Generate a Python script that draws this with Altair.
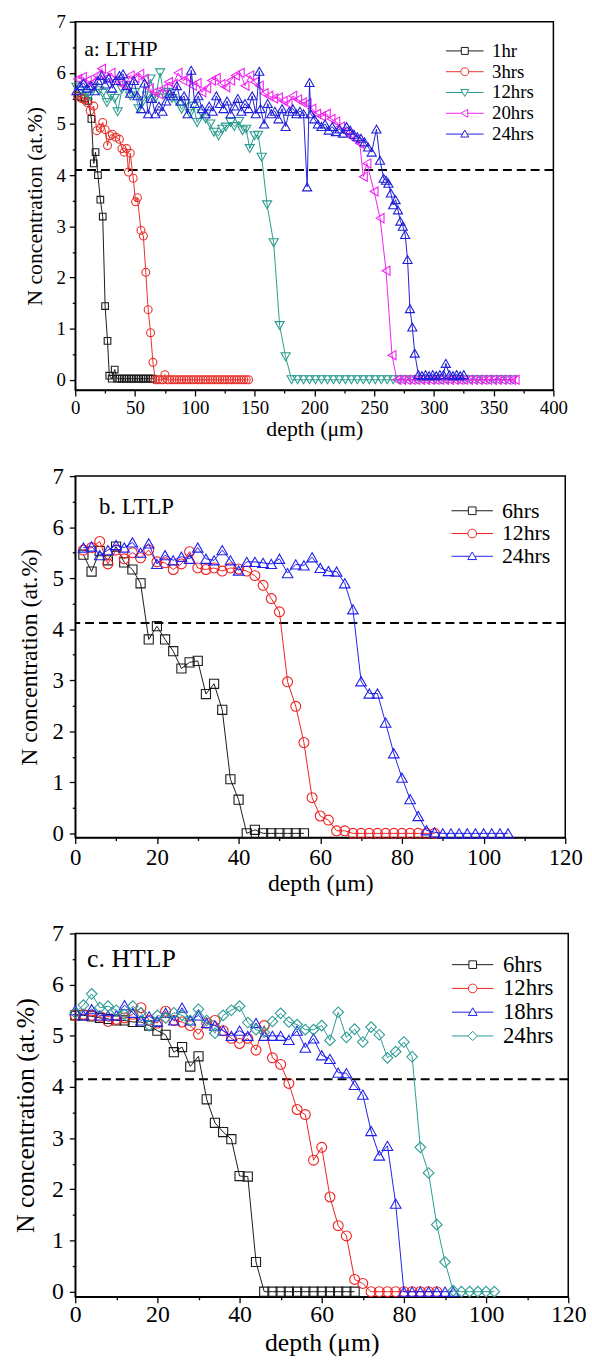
import altair as alt
import pandas as pd

FONT = "Liberation Serif"

# ---------------- panel a: LTHP ----------------
LTHP_NAMES = ["1hr", "3hrs", "12hrs", "20hrs", "24hrs"]
LTHP_COLORS = ["#1a1a1a", "#e8312a", "#2b9c8e", "#f022f0", "#2020d8"]
LTHP_SHAPES = ["square", "circle", "triangle-down", "triangle-left", "triangle-up"]

LTHP_1HR = [(2, 5.55), (5, 5.52), (8, 5.5), (11, 5.45), (13.5, 5.1), (15.5, 4.23), (17, 4.45),
            (19, 4.0), (21, 3.52), (23, 3.19), (25, 1.44), (27, 0.76), (28.5, 0.08), (30.5, 0.02),
            (33, 0.2), (35, 0.02), (37, 0.02), (39, 0.02), (41, 0.02), (43, 0.02), (45, 0.02),
            (47, 0.02), (49, 0.02), (51, 0.02), (53, 0.02), (55, 0.02), (57, 0.02), (59, 0.02),
            (61, 0.02), (63, 0.02), (65, 0.02)]

LTHP_3HRS = [(2, 5.55), (5, 5.5), (7.5, 5.48), (10, 5.42), (12.5, 5.26), (15.5, 5.35), (18, 4.87),
             (21, 4.92), (23, 5.03), (25, 4.89), (27, 4.58), (29, 4.77), (31, 4.8), (34, 4.74),
             (37, 4.7), (39, 4.52), (41, 4.45), (43, 4.52), (44.5, 4.06), (46, 4.43), (48.5, 3.94),
             (50.5, 3.48), (52, 3.56), (55, 2.92), (57, 2.81), (59, 2.1), (61, 1.37), (63, 0.92),
             (65, 0.34), (67, 0.0), (69, 0.0), (71, 0.0), (73, 0.0), (75, 0.1), (77, 0.0), (79, 0.0),
             (81, 0.0), (83, 0.0), (85, 0.0), (87, 0.0), (89, 0.0), (91, 0.0), (93, 0.0), (95, 0.0),
             (97, 0.0), (99, 0.0), (101, 0.0), (103, 0.0), (105, 0.0), (107, 0.0), (109, 0.0),
             (111, 0.0), (113, 0.0), (115, 0.0), (117, 0.0), (119, 0.0), (121, 0.0), (123, 0.0),
             (125, 0.0), (127, 0.0), (129, 0.0), (131, 0.0), (133, 0.0), (135, 0.0), (137, 0.0),
             (139, 0.0), (141, 0.0), (143, 0.0), (145, 0.0)]

LTHP_12HRS = [(1, 5.72), (5, 5.65), (9, 5.6), (12, 5.55), (16, 5.72), (20, 5.65), (23, 5.6),
              (26.5, 5.42), (30, 5.55), (33, 5.5), (35.5, 5.24), (39, 5.68), (43, 5.75), (46, 5.55),
              (50, 5.62), (53, 5.3), (57, 5.45), (60, 5.55), (63, 5.88), (67, 5.5), (71, 6.0),
              (74, 5.58), (78, 5.62), (81, 5.5), (85, 5.45), (89, 5.29), (92, 5.4), (96, 5.2),
              (99, 5.35), (102, 5.03), (106, 5.2), (109, 5.1), (113, 5.0), (116, 4.84), (120, 4.77),
              (123, 4.9), (126, 4.94), (130, 5.03), (133, 4.95), (137, 5.05), (140, 4.87), (143, 4.9),
              (146, 4.52), (150, 4.77), (153, 4.78), (156, 4.35), (160.5, 3.42), (166, 2.68),
              (171, 1.06), (176, 0.45), (181, 0.0), (186, 0.0), (191, 0.0), (196, 0.0), (201, 0.0),
              (206, 0.0), (211, 0.0), (216, 0.0), (221, 0.0), (226, 0.0), (231, 0.0), (236, 0.0),
              (241, 0.0), (246, 0.0), (251, 0.0), (256, 0.0), (261, 0.0), (266, 0.0), (271, 0.0),
              (276, 0.0), (281, 0.0), (286, 0.0), (291, 0.0), (296, 0.0), (301, 0.0), (306, 0.0),
              (311, 0.0), (316, 0.0), (321, 0.0), (326, 0.0), (331, 0.0), (336, 0.0), (341, 0.0),
              (346, 0.0), (351, 0.0), (356, 0.0), (361, 0.0), (366, 0.0)]

LTHP_20HRS = [(2, 5.88), (6, 5.92), (10, 5.85), (14, 5.8), (18, 5.95), (22, 6.08), (26, 5.9),
              (30, 6.0), (34, 5.85), (38, 5.78), (42, 5.75), (46, 5.95), (50, 5.9), (54, 5.98),
              (58, 5.88), (62, 5.7), (66, 5.62), (70, 5.58), (74, 5.7), (78, 5.82), (82, 5.78),
              (86, 6.0), (90, 5.85), (94, 5.9), (98, 5.75), (102, 5.8), (106, 5.62), (110, 5.7),
              (114, 5.85), (118, 5.9), (122, 5.78), (126, 5.72), (130, 5.85), (134, 5.95),
              (138, 6.0), (142, 5.75), (146, 5.95), (150, 5.82), (154, 5.75), (158, 5.6),
              (162, 5.55), (166, 5.5), (170, 5.52), (174, 5.45), (178, 5.4), (182, 5.55),
              (186, 5.48), (190, 5.42), (194, 5.4), (198, 5.3), (202, 5.2), (206, 5.15), (210, 5.2),
              (214, 5.1), (218, 5.05), (222, 4.95), (226, 4.85), (230, 4.78), (234, 4.7),
              (238, 4.62), (241, 3.97), (244, 4.23), (250, 3.68), (255, 3.16), (260, 2.13),
              (265, 0.48), (269, 0.0), (273, 0.0), (277, 0.0), (281, 0.0), (285, 0.0), (289, 0.0),
              (293, 0.0), (297, 0.0), (301, 0.0), (305, 0.0), (309, 0.0), (313, 0.0), (317, 0.0),
              (321, 0.0), (325, 0.0), (329, 0.0), (333, 0.0), (337, 0.0), (341, 0.0), (345, 0.0),
              (349, 0.0), (353, 0.0), (357, 0.0), (361, 0.0), (365, 0.0), (368, 0.0)]

LTHP_24HRS = [(1, 5.65), (4, 5.75), (7, 5.8), (10, 5.7), (13, 5.75), (16, 5.65), (19, 5.85),
              (22, 5.95), (25, 5.78), (28, 5.9), (31, 5.7), (34, 5.85), (37, 5.95), (40, 5.98),
              (43, 5.75), (46, 5.6), (49, 5.85), (52, 5.55), (55, 5.3), (58, 5.8), (61, 5.2),
              (64, 5.5), (67, 5.2), (70, 5.35), (73, 5.25), (76, 5.45), (79, 5.6), (82, 5.55),
              (85, 5.75), (88, 5.45), (91, 5.55), (94, 5.2), (97, 6.05), (100, 5.4), (103, 5.55),
              (106, 5.3), (109, 5.2), (112, 5.35), (115, 5.25), (118, 5.55), (121, 5.4), (124, 5.3),
              (127, 5.45), (130, 5.2), (133, 5.35), (136, 5.5), (139, 5.25), (142, 5.4), (145, 5.3),
              (148, 5.55), (151, 5.2), (154, 6.03), (155, 5.3), (158, 5.0), (161, 5.4), (164, 5.2),
              (167, 5.25), (170, 5.1), (173, 5.3), (176, 4.95), (179, 5.25), (182, 5.3), (185, 5.2),
              (188, 5.25), (191, 5.2), (194, 3.77), (196, 5.81), (197, 5.2), (200, 5.1), (203, 5.0),
              (206, 4.95), (209, 5.0), (212, 4.88), (215, 4.95), (218, 4.85), (221, 4.9),
              (224, 4.82), (227, 4.95), (230, 4.88), (233, 4.8), (236, 4.75), (239, 4.72),
              (242, 4.65), (245, 4.55), (248, 4.45), (252, 4.9), (255, 4.29), (258, 3.94),
              (260, 3.9), (262, 3.84), (264, 3.65), (266, 3.42), (268, 3.52), (270, 3.32),
              (272, 3.1), (274, 3.0), (276, 2.84), (278, 2.35), (280, 1.39), (282, 1.03),
              (284, 0.52), (287, 0.1), (290, 0.08), (293, 0.1), (296, 0.08), (299, 0.1), (302, 0.08),
              (305, 0.1), (308, 0.1), (310, 0.32), (313, 0.1), (316, 0.08), (319, 0.1), (322, 0.08),
              (325, 0.1)]

# ---------------- panel b: LTLP ----------------
LTLP_NAMES = ["6hrs", "12hrs", "24hrs"]
LTLP_COLORS = ["#1a1a1a", "#f02020", "#2020ee"]
LTLP_SHAPES = ["square", "circle", "triangle-up"]

LTLP_6HRS = [(2, 5.46), (4, 5.13), (6, 5.53), (8, 5.35), (10, 5.62), (12, 5.31), (14, 5.17),
             (16, 4.9), (18, 3.8), (20, 4.06), (22, 3.8), (24, 3.57), (26, 3.23), (28, 3.35),
             (30, 3.38), (32, 2.73), (34, 2.93), (36, 2.42), (38, 1.06), (40, 0.66), (42, 0.0),
             (44, 0.07), (46, 0.0), (48, 0.0), (50, 0.0), (52, 0.0), (54, 0.0), (56, 0.0)]

LTLP_12HRS = [(2, 5.55), (4, 5.6), (6, 5.72), (8, 5.28), (10, 5.55), (12, 5.38), (14, 5.5),
              (16, 5.4), (18, 5.55), (20, 5.32), (22, 5.3), (24, 5.17), (26, 5.28), (28, 5.52),
              (30, 5.2), (32, 5.17), (34, 5.2), (36, 5.14), (38, 5.2), (40, 5.18), (42, 5.14),
              (44, 5.05), (46, 4.86), (48, 4.6), (50, 4.34), (52, 2.97), (54, 2.49), (56, 1.78),
              (58, 0.7), (60, 0.34), (62, 0.26), (64, 0.05), (66, 0.05), (68, 0.0), (70, 0.0),
              (72, 0.0), (74, 0.0), (76, 0.0), (78, 0.0), (80, 0.0), (82, 0.0), (84, 0.0), (86, 0.0),
              (88, 0.0)]

LTLP_24HRS = [(2, 5.6), (4, 5.62), (6, 5.45), (8, 5.55), (10, 5.65), (12, 5.6), (14, 5.7),
              (16, 5.5), (18, 5.68), (20, 5.28), (22, 5.45), (24, 5.35), (26, 5.42), (28, 5.38),
              (30, 5.6), (32, 5.38), (34, 5.35), (36, 5.55), (38, 5.35), (40, 5.15), (42, 5.32),
              (44, 5.32), (46, 5.3), (48, 5.28), (50, 5.38), (52, 5.1), (54, 5.27), (56, 5.25),
              (58, 5.41), (60, 5.2), (62, 5.14), (64, 5.13), (66, 4.9), (68, 4.39), (70, 2.98),
              (72, 2.74), (74, 2.74), (76, 2.17), (78, 1.57), (80, 1.09), (82, 0.67), (84, 0.34),
              (86, 0.06), (88, 0.02), (90, 0.0), (92, 0.0), (94, 0.0), (96, 0.0), (98, 0.0),
              (100, 0.0), (102, 0.0), (104, 0.0), (106, 0.0)]

# ---------------- panel c: HTLP ----------------
HTLP_NAMES = ["6hrs", "12hrs", "18hrs", "24hrs"]
HTLP_COLORS = ["#1a1a1a", "#f02020", "#2020ee", "#2b9c94"]
HTLP_SHAPES = ["square", "circle", "triangle-up", "diamond"]

HTLP_6HRS = [(0, 5.4), (2, 5.4), (4, 5.38), (6, 5.35), (8, 5.33), (10, 5.3), (12, 5.3), (14, 5.27),
             (16, 5.27), (18, 5.2), (20, 5.1), (22, 5.02), (24, 4.68), (26, 4.78), (28, 4.4),
             (30, 4.6), (32, 3.76), (34, 3.3), (36, 3.12), (38, 2.98), (40, 2.26), (42, 2.25),
             (44, 0.58), (46, 0.0), (48, 0.0), (50, 0.0), (52, 0.0), (54, 0.0), (56, 0.0), (58, 0.0),
             (60, 0.0), (62, 0.0), (64, 0.0), (66, 0.0), (68, 0.0)]

HTLP_12HRS = [(0, 5.4), (2, 5.42), (4, 5.4), (6, 5.38), (8, 5.28), (10, 5.32), (12, 5.35),
              (14, 5.42), (16, 5.55), (18, 5.3), (20, 5.25), (22, 5.48), (24, 5.3), (26, 5.27),
              (28, 5.2), (30, 5.03), (32, 5.25), (34, 5.3), (36, 5.1), (38, 4.95), (40, 4.85),
              (42, 4.95), (44, 4.72), (46, 5.2), (48, 4.57), (50, 4.44), (52, 4.07), (54, 3.56),
              (56, 3.46), (58, 2.57), (60, 2.82), (62, 1.85), (64, 1.29), (66, 1.09), (68, 0.24),
              (70, 0.16), (72, 0.0), (74, 0.0), (76, 0.0), (78, 0.0), (80, 0.0), (82, 0.0),
              (84, 0.0), (86, 0.0), (88, 0.0)]

HTLP_18HRS = [(0, 5.5), (2, 5.4), (4, 5.52), (6, 5.4), (8, 5.4), (10, 5.4), (12, 5.6), (14, 5.45),
              (16, 5.3), (18, 5.38), (20, 5.28), (22, 5.45), (24, 5.3), (26, 5.55), (28, 5.3),
              (30, 5.4), (32, 5.25), (34, 5.2), (36, 5.1), (38, 5.0), (40, 5.1), (42, 5.0),
              (44, 5.25), (46, 5.0), (48, 5.0), (50, 5.0), (52, 4.92), (54, 5.1), (56, 4.77),
              (58, 4.95), (60, 4.62), (62, 4.55), (64, 4.28), (66, 4.27), (68, 4.04), (70, 3.85),
              (72, 3.14), (74, 2.66), (76, 2.85), (78, 1.72), (80, 0.0), (82, 0.0), (84, 0.0),
              (86, 0.0), (88, 0.0), (90, 0.0), (92, 0.0)]

HTLP_24HRS = [(0, 5.45), (2, 5.6), (4, 5.82), (6, 5.55), (8, 5.58), (10, 5.5), (12, 5.42),
              (14, 5.58), (16, 5.45), (18, 5.2), (20, 5.4), (22, 5.35), (24, 5.45), (26, 5.4),
              (28, 5.3), (30, 5.52), (32, 5.3), (34, 5.05), (36, 5.4), (38, 5.5), (40, 5.58),
              (42, 5.26), (44, 5.12), (46, 5.07), (48, 5.28), (50, 5.44), (52, 5.27), (54, 5.22),
              (56, 5.12), (58, 5.12), (60, 5.2), (62, 4.91), (64, 5.46), (66, 4.97), (68, 5.13),
              (70, 4.88), (72, 5.17), (74, 5.02), (76, 4.57), (78, 4.69), (80, 4.88), (82, 4.59),
              (84, 2.82), (86, 2.32), (88, 1.31), (90, 0.58), (92, 0.02), (94, 0.0), (96, 0.0),
              (98, 0.0), (100, 0.0), (102, 0.0)]


def legend_path(shape, reach):
    """Legend glyph: a short line segment with the hollow marker in the middle."""
    r = reach
    if shape == "square":
        return f"M{-r},0H-0.7M0.7,0H{r}M-0.7,-0.7H0.7V0.7H-0.7Z"
    if shape == "circle":
        return f"M{-r},0H-0.8M0.8,0H{r}M0.8,0A0.8,0.8,0,1,1,-0.8,0A0.8,0.8,0,1,1,0.8,0Z"
    if shape == "triangle-down":
        return f"M{-r},0H-0.46M0.46,0H{r}M-0.8,-0.6H0.8L0,0.8Z"
    if shape == "triangle-up":
        return f"M{-r},0H-0.46M0.46,0H{r}M-0.8,0.6H0.8L0,-0.8Z"
    if shape == "triangle-left":
        return f"M{-r},0H-0.8M0.6,0H{r}M0.6,-0.8V0.8L-0.8,0Z"
    return f"M{-r},0H-0.85M0.85,0H{r}M0,-0.85L0.85,0L0,0.85L-0.85,0Z"


def panel(names, colors, shapes, series, *, tag, tag_xy, tag_size, x_max, x_minor, x_major,
          y_min, level, width, height, tick_fs, title_fs, y_label_pad, y_title_pad,
          x_label_pad, x_title_pad, marker_sizes, legend_xy, legend_fs, legend_sym,
          legend_reach, legend_offset, legend_rowpad):
    x_vals = [i * x_minor for i in range(int(x_max / x_minor) + 1)]
    y_vals = [i * 0.5 for i in range(15)]
    x_enc = alt.X(
        "depth:Q",
        scale=alt.Scale(domain=[0, x_max], nice=False, zero=False),
        axis=alt.Axis(
            title="depth (μm)", values=x_vals, grid=False,
            labelExpr=f"datum.value % {x_major} === 0 ? '' + datum.value : ''",
            tickSize={"condition": {"test": f"datum.value % {x_major} === 0", "value": 6}, "value": 3},
            tickColor="black", tickWidth=1.3, domainColor="black", domainWidth=1.5,
            labelFont=FONT, labelFontSize=tick_fs, labelColor="black", labelPadding=x_label_pad,
            labelOverlap=False, labelFlush=False,
            titleFont=FONT, titleFontSize=title_fs, titleFontWeight="normal",
            titleColor="black", titlePadding=x_title_pad,
        ),
    )
    y_enc = alt.Y(
        "conc:Q",
        scale=alt.Scale(domain=[y_min, 7], nice=False, zero=False),
        axis=alt.Axis(
            title="N concentration (at.%)", values=y_vals, grid=False,
            labelExpr="datum.value % 1 === 0 ? '' + datum.value : ''",
            tickSize={"condition": {"test": "datum.value % 1 === 0", "value": 6}, "value": 3},
            tickColor="black", tickWidth=1.3, domainColor="black", domainWidth=1.5,
            labelFont=FONT, labelFontSize=tick_fs, labelColor="black", labelPadding=y_label_pad,
            labelOverlap=False, labelFlush=False,
            titleFont=FONT, titleFontSize=title_fs, titleFontWeight="normal",
            titleColor="black", titlePadding=y_title_pad,
        ),
    )

    layers = []
    # threshold level
    layers.append(
        alt.Chart(pd.DataFrame({"conc": [level]}))
        .mark_rule(color="black", strokeWidth=2, strokeDash=[9, 5])
        .encode(y=y_enc)
    )
    for name, color, shape, pts, msize in zip(names, colors, shapes, series, marker_sizes):
        df = pd.DataFrame(pts, columns=["depth", "conc"])
        base = alt.Chart(df)
        layers.append(base.mark_line(color=color, strokeWidth=1).encode(x=x_enc, y=y_enc))
        layers.append(
            base.mark_point(shape=shape, size=msize, filled=False, color=color,
                            strokeWidth=1.1, opacity=1)
            .encode(x=x_enc, y=y_enc)
        )

    # legend: empty layer carrying the colour/shape scales
    leg = alt.Legend(
        title=None, orient="none", legendX=legend_xy[0], legendY=legend_xy[1], padding=0,
        labelFont=FONT, labelFontSize=legend_fs, labelColor="black", labelLimit=0,
        symbolSize=legend_sym, symbolStrokeWidth=1, labelOffset=legend_offset,
        rowPadding=legend_rowpad,
    )
    paths = [legend_path(s, legend_reach) for s in shapes]
    layers.append(
        alt.Chart(pd.DataFrame({"series": names}))
        .transform_filter("false")
        .mark_point(filled=False, opacity=1, strokeWidth=1)
        .encode(
            color=alt.Color("series:N", scale=alt.Scale(domain=names, range=colors), legend=leg),
            shape=alt.Shape("series:N", scale=alt.Scale(domain=names, range=paths), legend=leg),
        )
    )

    layers.append(
        alt.Chart(pd.DataFrame({"tag": [tag]}))
        .mark_text(align="left", baseline="alphabetic", font=FONT, fontSize=tag_size, color="black")
        .encode(text="tag:N", x=alt.value(tag_xy[0]), y=alt.value(tag_xy[1]))
    )
    return alt.layer(*layers).properties(width=width, height=height)


panel_a = panel(
    LTHP_NAMES, LTHP_COLORS, LTHP_SHAPES,
    [LTHP_1HR, LTHP_3HRS, LTHP_12HRS, LTHP_20HRS, LTHP_24HRS],
    tag="a: LTHP", tag_xy=(9, 35), tag_size=22,
    x_max=400, x_minor=25, x_major=50, y_min=-0.2, level=4.1,
    width=483, height=372, tick_fs=19, title_fs=22, y_label_pad=4, y_title_pad=10,
    x_label_pad=3, x_title_pad=1,
    marker_sizes=[45, 64, 85, 85, 85],
    legend_xy=(384, 20), legend_fs=19, legend_sym=100, legend_reach=3.8,
    legend_offset=18, legend_rowpad=1,
)

panel_b = panel(
    LTLP_NAMES, LTLP_COLORS, LTLP_SHAPES,
    [LTLP_6HRS, LTLP_12HRS, LTLP_24HRS],
    tag="b. LTLP", tag_xy=(24, 38), tag_size=23,
    x_max=120, x_minor=10, x_major=20, y_min=-0.08, level=4.12,
    width=495, height=365, tick_fs=23, title_fs=24, y_label_pad=6, y_title_pad=11,
    x_label_pad=3, x_title_pad=3,
    marker_sizes=[85, 100, 115],
    legend_xy=(390, 24), legend_fs=22, legend_sym=121, legend_reach=3.8,
    legend_offset=19, legend_rowpad=1,
)

panel_c = panel(
    HTLP_NAMES, HTLP_COLORS, HTLP_SHAPES,
    [HTLP_6HRS, HTLP_12HRS, HTLP_18HRS, HTLP_24HRS],
    tag="c. HTLP", tag_xy=(12, 34), tag_size=26,
    x_max=120, x_minor=10, x_major=20, y_min=-0.1, level=4.15,
    width=498, height=367, tick_fs=24, title_fs=26, y_label_pad=6, y_title_pad=13,
    x_label_pad=0, x_title_pad=3,
    marker_sizes=[85, 100, 115, 115],
    legend_xy=(390, 20), legend_fs=23, legend_sym=121, legend_reach=3.8,
    legend_offset=19, legend_rowpad=0,
)

chart = (
    alt.vconcat(panel_a, panel_b, panel_c, spacing=24)
    .resolve_scale(color="independent", shape="independent")
    .resolve_legend(color="independent", shape="independent")
    .properties(padding={"left": 12, "top": 5, "right": 5, "bottom": 5})
    .configure(font=FONT)
    .configure_axis(labelFont=FONT, titleFont=FONT, titleFontWeight="normal")
    .configure_legend(labelFont=FONT, titleFont=FONT)
    .configure_text(font=FONT)
    .configure_view(stroke="black", strokeWidth=1.5)
)

chart.save("out.html", embed_options={"renderer": "svg", "actions": False})
